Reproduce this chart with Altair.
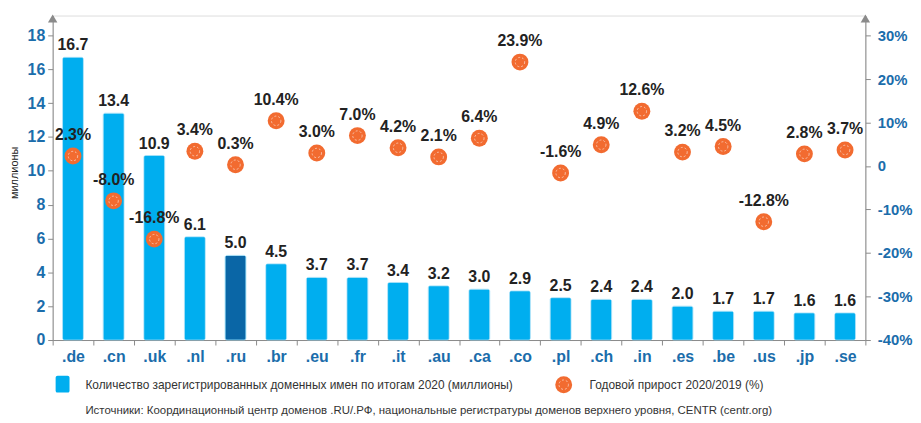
import altair as alt
import pandas as pd

domains = [".de", ".cn", ".uk", ".nl", ".ru", ".br", ".eu", ".fr", ".it", ".au",
           ".ca", ".co", ".pl", ".ch", ".in", ".es", ".be", ".us", ".jp", ".se"]
counts = [16.7, 13.4, 10.9, 6.1, 5.0, 4.5, 3.7, 3.7, 3.4, 3.2,
          3.0, 2.9, 2.5, 2.4, 2.4, 2.0, 1.7, 1.7, 1.6, 1.6]
growth = [2.3, -8.0, -16.8, 3.4, 0.3, 10.4, 3.0, 7.0, 4.2, 2.1,
          6.4, 23.9, -1.6, 4.9, 12.6, 3.2, 4.5, -12.8, 2.8, 3.7]
highlight = ".ru"
left_ticks = [0, 2, 4, 6, 8, 10, 12, 14, 16, 18]
right_ticks = [-40, -30, -20, -10, 0, 10, 20, 30]
legend_labels = ["Количество зарегистрированных доменных имен по итогам 2020 (миллионы)",
                 "Годовой прирост 2020/2019 (%)"]
source_note = ("Источники: Координационный центр доменов .RU/.РФ, национальные регистратуры "
               "доменов верхнего уровня, CENTR (centr.org)")
y_title = "миллионы"

LIGHT = "#00aeef"
DARK = "#0a66a6"
ORANGE = "#f26b30"
AXIS_BLUE = "#1b6dab"
GREY = "#8a8a8a"
TXT = "#222222"
FONT = "Liberation Sans"

W, H = 819, 327

df = pd.DataFrame({"domain": domains, "count": counts, "growth": growth})
df["count_label"] = df["count"].map(lambda v: f"{v:.1f}")
df["growth_label"] = df["growth"].map(lambda v: f"{v:.1f}%")
df["bar_color"] = [DARK if d == highlight else LIGHT for d in domains]

base = alt.Chart(df)

x_axis = alt.Axis(title=None, labelFont=FONT, labelFontSize=16, labelFontWeight="bold",
                  labelColor=AXIS_BLUE, labelAngle=0, labelPadding=4,
                  domainColor=GREY, tickColor=GREY, tickSize=5, tickBand="extent",
                  labelBaseline="top")
x_scale = alt.Scale(paddingInner=0, paddingOuter=0)
x_enc = alt.X("domain:N", sort=domains, scale=x_scale, axis=x_axis)

left_axis = alt.Axis(title=y_title, values=left_ticks, grid=False,
                     labelFont=FONT, labelFontSize=16, labelFontWeight="bold",
                     labelColor=AXIS_BLUE, labelPadding=3, labelOverlap=False,
                     labelFlush=False, domainColor=GREY, tickColor=GREY, tickSize=5,
                     titleFont=FONT, titleFontSize=11, titleFontWeight="normal",
                     titleColor=TXT, titleX=-38, titleY=158, titleAngle=-90,
                     titleAlign="center", titleBaseline="middle")
right_axis = alt.Axis(orient="right", title=None, values=right_ticks, grid=False,
                      labelExpr="datum.value == 0 ? '0' : datum.value + '%'",
                      labelFont=FONT, labelFontSize=15, labelFontWeight="bold",
                      labelColor=AXIS_BLUE, labelPadding=7, labelOverlap=False,
                      labelFlush=False, domainColor=GREY, tickColor=GREY, tickSize=5)

y_left_scale = alt.Scale(domain=[0, 19.17], nice=False, zero=True)
y_right_scale = alt.Scale(domain=[-40, 34.6], nice=False, zero=False)
y_left = alt.Y("count:Q", scale=y_left_scale, axis=left_axis)
y_right = alt.Y("growth:Q", scale=y_right_scale, axis=right_axis)

bars = base.mark_bar(width=21, cornerRadius=2, stroke="#7fd3f5", strokeWidth=0.6).encode(
    x=x_enc, y=y_left, color=alt.Color("bar_color:N", scale=None))
bar_text = base.mark_text(baseline="bottom", dy=-4, font=FONT, fontSize=16,
                          fontWeight="bold", color=TXT).encode(
    x=x_enc, y=y_left, text="count_label:N")
left_layer = alt.layer(bars, bar_text)

pts = base.mark_point(filled=True, size=290, color=ORANGE, opacity=1, shape="circle").encode(
    x=x_enc, y=y_right)
rings = base.mark_point(filled=False, size=90, color="white", strokeWidth=0.8,
                        strokeDash=[2, 2], opacity=0.7).encode(x=x_enc, y=y_right)
pt_text = base.mark_text(baseline="bottom", dy=-13, font=FONT, fontSize=16,
                         fontWeight="bold", color=TXT).encode(
    x=x_enc, y=y_right, text="growth_label:N")
right_layer = alt.layer(pts, rings, pt_text)

one = alt.Chart(pd.DataFrame({"k": [0]}))
arrow_l = one.mark_point(shape="triangle-up", filled=True, size=90, color=GREY, opacity=1).encode(
    x=alt.value(0), y=alt.value(3))
arrow_r = one.mark_point(shape="triangle-up", filled=True, size=90, color=GREY, opacity=1).encode(
    x=alt.value(W), y=alt.value(3))

leg_sq = one.mark_rect(color=LIGHT, cornerRadius=2).encode(
    x=alt.value(3), x2=alt.value(17), y=alt.value(363), y2=alt.value(380))
leg_t1 = one.mark_text(text=legend_labels[0], align="left", baseline="middle", font=FONT,
                       fontSize=12, color="#333333").encode(x=alt.value(33), y=alt.value(372))
leg_pt = one.mark_point(filled=True, size=290, color=ORANGE, opacity=1).encode(
    x=alt.value(515), y=alt.value(372))
leg_ring = one.mark_point(filled=False, size=90, color="white", strokeWidth=0.8,
                          strokeDash=[2, 2], opacity=0.7).encode(x=alt.value(515), y=alt.value(372))
leg_t2 = one.mark_text(text=legend_labels[1], align="left", baseline="middle", font=FONT,
                       fontSize=12, color="#333333").encode(x=alt.value(541), y=alt.value(372))
src = one.mark_text(text=source_note, align="left", baseline="middle", font=FONT,
                    fontSize=11.5, color="#333333").encode(x=alt.value(33), y=alt.value(399))

chart = alt.layer(
    left_layer, right_layer, arrow_l, arrow_r, leg_sq, leg_t1, leg_pt, leg_ring, leg_t2, src
).resolve_scale(y="independent").properties(
    width=W, height=H,
    autosize=alt.AutoSizeParams(type="none"),
    padding={"left": 45, "top": 6, "right": 48, "bottom": 80},
).configure_view(stroke=None).configure(background="white")

chart.save("out.html", embed_options={"renderer": "svg", "actions": False})
